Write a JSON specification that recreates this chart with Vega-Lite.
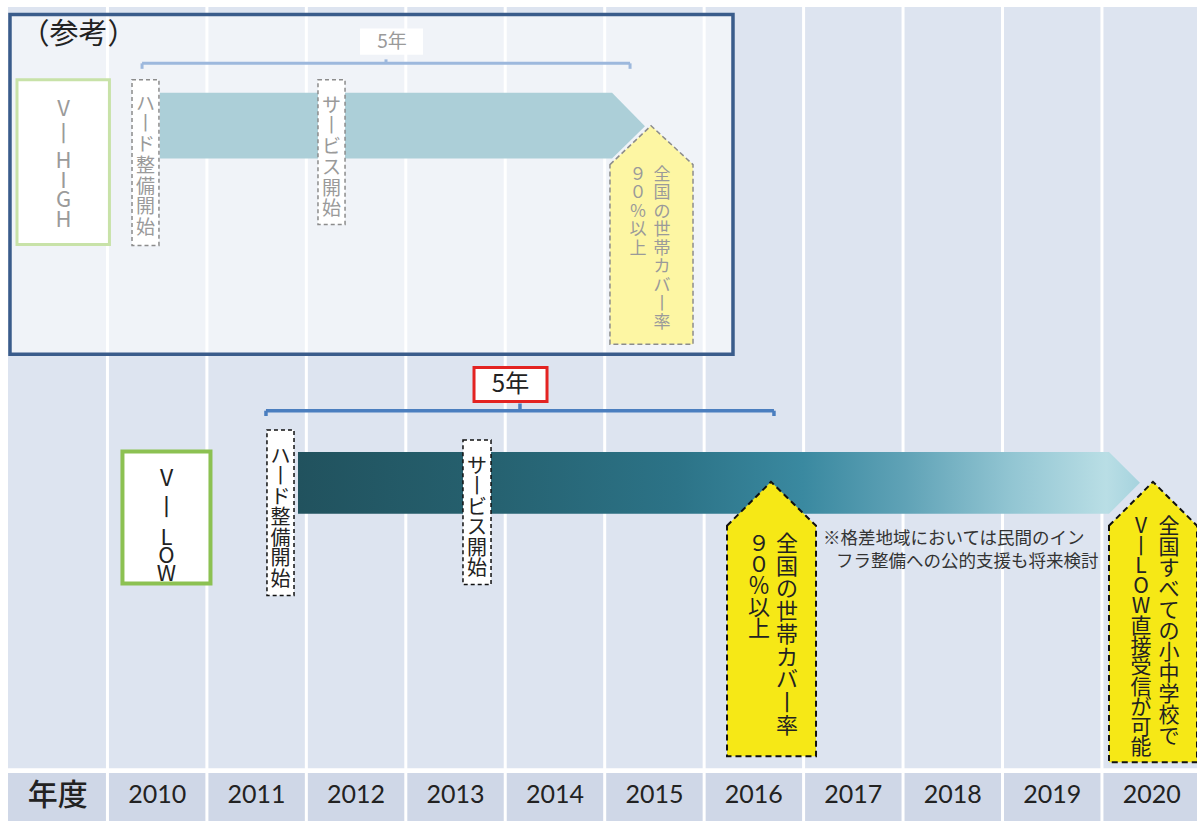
{
  "$schema": "https://vega.github.io/schema/vega-lite/v6.json",
  "width": 1197,
  "height": 823,
  "autosize": {"type": "fit", "contains": "padding"},
  "padding": 0,
  "background": "white",
  "config": {"view": {"stroke": null}, "font": "Noto Sans CJK JP"},
  "encoding": {
    "x": {"field": "x", "type": "quantitative", "scale": {"domain": [2008.4196, 2020.4558], "nice": false, "zero": false}, "axis": null},
    "y": {"field": "y", "type": "quantitative", "scale": {"domain": [0, 82.3], "nice": false, "zero": false, "reverse": true}, "axis": null}
  },
  "layer": [
    {
      "data": {"values": [
        {"x": 2008.5, "x2": 2020.5, "y": 0.7, "y2": 77.0, "part": "grid"},
        {"x": 2008.5, "x2": 2020.5, "y": 77.5, "y2": 82.3, "part": "year"}
      ]},
      "mark": {"type": "rect", "clip": true},
      "encoding": {
        "x2": {"field": "x2"},
        "y2": {"field": "y2"},
        "color": {"field": "part", "type": "nominal", "scale": {"domain": ["grid", "year"], "range": ["#dde4f0", "#cfd7e7"]}, "legend": null}
      }
    },
    {
      "data": {"values": [
        {"x": 2009.5, "y": 0.7, "y2": 82.3}, {"x": 2010.5, "y": 0.7, "y2": 82.3}, {"x": 2011.5, "y": 0.7, "y2": 82.3},
        {"x": 2012.5, "y": 0.7, "y2": 82.3}, {"x": 2013.5, "y": 0.7, "y2": 82.3}, {"x": 2014.5, "y": 0.7, "y2": 82.3},
        {"x": 2015.5, "y": 0.7, "y2": 82.3}, {"x": 2016.5, "y": 0.7, "y2": 82.3}, {"x": 2017.5, "y": 0.7, "y2": 82.3},
        {"x": 2018.5, "y": 0.7, "y2": 82.3}, {"x": 2019.5, "y": 0.7, "y2": 82.3}
      ]},
      "mark": {"type": "rule", "color": "white", "strokeWidth": 3},
      "encoding": {"y2": {"field": "y2"}}
    },
    {
      "data": {"values": [{"x": 2008.52, "x2": 2015.79, "y": 1.45, "y2": 35.5}]},
      "mark": {"type": "rect", "fill": "white", "fillOpacity": 0.55, "stroke": "#3a5c8b", "strokeWidth": 3.5},
      "encoding": {"x2": {"field": "x2"}, "y2": {"field": "y2"}}
    },
    {
      "data": {"values": [{"x": 2009.21, "y": 3.5, "t": "（参考）"}]},
      "mark": {"type": "text", "fontSize": 29, "color": "#222222", "align": "center", "baseline": "middle"},
      "encoding": {"text": {"field": "t", "type": "nominal"}}
    },
    {
      "data": {"values": [
        {"x": 2009.848, "x2": 2014.755, "y": 6.35, "y2": 6.35},
        {"x": 2009.848, "x2": 2009.848, "y": 6.35, "y2": 6.9},
        {"x": 2014.755, "x2": 2014.755, "y": 6.35, "y2": 6.9},
        {"x": 2012.301, "x2": 2012.301, "y": 5.95, "y2": 6.35}
      ]},
      "mark": {"type": "rule", "color": "#9db8dd", "strokeWidth": 3},
      "encoding": {"x2": {"field": "x2"}, "y2": {"field": "y2"}}
    },
    {
      "data": {"values": [{"x": 2012.04, "x2": 2012.673, "y": 2.85, "y2": 5.5}]},
      "mark": {"type": "rect", "fill": "white"},
      "encoding": {"x2": {"field": "x2"}, "y2": {"field": "y2"}}
    },
    {
      "data": {"values": [{"x": 2012.361, "y": 4.2, "t": "5年"}]},
      "mark": {"type": "text", "fontSize": 19, "color": "#9a9a9a", "align": "center", "baseline": "middle"},
      "encoding": {"text": {"field": "t", "type": "nominal"}}
    },
    {
      "data": {"values": [{"x": 2008.5905, "x2": 2009.52, "y": 8.0, "y2": 24.5}]},
      "mark": {"type": "rect", "fill": "white", "stroke": "#c8e2a8", "strokeWidth": 3},
      "encoding": {"x2": {"field": "x2"}, "y2": {"field": "y2"}}
    },
    {
      "data": {"values": [{"x": 2009.058, "y": 9.9, "t": "V\n丨"}]},
      "mark": {"type": "text", "fontSize": 22, "color": "#9a9a9a", "align": "center", "baseline": "top", "lineBreak": "\n", "lineHeight": 25},
      "encoding": {"text": {"field": "t", "type": "nominal"}}
    },
    {
      "data": {"values": [{"x": 2009.058, "y": 15.15, "t": "H\nI\nG\nH"}]},
      "mark": {"type": "text", "fontSize": 22, "color": "#9a9a9a", "align": "center", "baseline": "top", "lineBreak": "\n", "lineHeight": 19.5},
      "encoding": {"text": {"field": "t", "type": "nominal"}}
    },
    {
      "data": {"values": [
        {"x": 2010.028, "y": 9.3, "y2": 15.9},
        {"x": 2014.574, "y": 9.3, "y2": 15.9},
        {"x": 2014.905, "y": 12.65, "y2": 12.65}
      ]},
      "mark": {"type": "area", "orient": "vertical", "color": "#accfd8"},
      "encoding": {"y": {"field": "y", "type": "quantitative", "stack": null}, "y2": {"field": "y2"}}
    },
    {
      "data": {"values": [
        {"x": 2009.747, "x2": 2010.018, "y": 8.0, "y2": 24.6},
        {"x": 2011.617, "x2": 2011.889, "y": 8.0, "y2": 22.5}
      ]},
      "mark": {"type": "rect", "fill": "white", "stroke": "#8c8c8c", "strokeWidth": 1.5, "strokeDash": [4, 3]},
      "encoding": {"x2": {"field": "x2"}, "y2": {"field": "y2"}}
    },
    {
      "data": {"values": [
        {"x": 2009.883, "y": 9.5, "t": "ハ\n丨\nド\n整\n備\n開\n始"},
        {"x": 2011.753, "y": 9.7, "t": "サ\n丨\nビ\nス\n開\n始"}
      ]},
      "mark": {"type": "text", "fontSize": 19, "color": "#9a9a9a", "align": "center", "baseline": "top", "lineBreak": "\n", "lineHeight": 20.7},
      "encoding": {"text": {"field": "t", "type": "nominal"}}
    },
    {
      "data": {"values": [
        {"x": 2014.553, "y": 16.5, "y2": 34.5},
        {"x": 2014.966, "y": 12.6, "y2": 34.5},
        {"x": 2015.388, "y": 16.5, "y2": 34.5}
      ]},
      "mark": {"type": "area", "orient": "vertical", "fill": "#fdf6a3", "stroke": "#8c8c8c", "strokeWidth": 1.5, "strokeDash": [5, 3]},
      "encoding": {"y": {"field": "y", "type": "quantitative", "stack": null}, "y2": {"field": "y2"}}
    },
    {
      "data": {"values": [
        {"x": 2015.076, "y": 16.7, "t": "全\n国\nの\n世\n帯\nカ\nバ\n丨\n率"},
        {"x": 2014.835, "y": 16.7, "t": "９\n０\n％\n以\n上"}
      ]},
      "mark": {"type": "text", "fontSize": 17, "color": "#9a9a9a", "align": "center", "baseline": "top", "lineBreak": "\n", "lineHeight": 18.5},
      "encoding": {"text": {"field": "t", "type": "nominal"}}
    },
    {
      "data": {"values": [
        {"x": 2011.094, "x2": 2016.202, "y": 41.17, "y2": 41.17},
        {"x": 2011.094, "x2": 2011.094, "y": 41.17, "y2": 41.7},
        {"x": 2016.202, "x2": 2016.202, "y": 41.17, "y2": 41.7},
        {"x": 2013.648, "x2": 2013.648, "y": 40.45, "y2": 41.17}
      ]},
      "mark": {"type": "rule", "color": "#4a7ebf", "strokeWidth": 3.5},
      "encoding": {"x2": {"field": "x2"}, "y2": {"field": "y2"}}
    },
    {
      "data": {"values": [{"x": 2013.186, "x2": 2013.92, "y": 36.85, "y2": 40.25}]},
      "mark": {"type": "rect", "fill": "white", "stroke": "#e32322", "strokeWidth": 3},
      "encoding": {"x2": {"field": "x2"}, "y2": {"field": "y2"}}
    },
    {
      "data": {"values": [{"x": 2013.553, "y": 38.6, "t": "5年"}]},
      "mark": {"type": "text", "fontSize": 24, "color": "#222222", "align": "center", "baseline": "middle"},
      "encoding": {"text": {"field": "t", "type": "nominal"}}
    },
    {
      "data": {"values": [{"x": 2009.651, "x2": 2010.536, "y": 45.25, "y2": 58.5}]},
      "mark": {"type": "rect", "fill": "white", "stroke": "#8cc152", "strokeWidth": 4},
      "encoding": {"x2": {"field": "x2"}, "y2": {"field": "y2"}}
    },
    {
      "data": {"values": [{"x": 2010.094, "y": 46.9, "t": "V\n丨"}]},
      "mark": {"type": "text", "fontSize": 23, "color": "#222222", "align": "center", "baseline": "top", "lineBreak": "\n", "lineHeight": 29},
      "encoding": {"text": {"field": "t", "type": "nominal"}}
    },
    {
      "data": {"values": [{"x": 2010.094, "y": 52.9, "t": "L\nO\nW"}]},
      "mark": {"type": "text", "fontSize": 22, "color": "#222222", "align": "center", "baseline": "top", "lineBreak": "\n", "lineHeight": 18},
      "encoding": {"text": {"field": "t", "type": "nominal"}}
    },
    {
      "data": {"values": [
        {"x": 2011.416, "y": 45.3, "y2": 51.5},
        {"x": 2019.571, "y": 45.3, "y2": 51.5},
        {"x": 2019.882, "y": 48.4, "y2": 48.4}
      ]},
      "mark": {"type": "area", "orient": "vertical", "fill": {
        "gradient": "linear", "x1": 0, "y1": 0, "x2": 1, "y2": 0,
        "stops": [
          {"offset": 0, "color": "#21525e"},
          {"offset": 0.2, "color": "#255f6d"},
          {"offset": 0.45, "color": "#2c7387"},
          {"offset": 0.6, "color": "#3a89a0"},
          {"offset": 0.72, "color": "#5fa2b6"},
          {"offset": 0.85, "color": "#93c6d3"},
          {"offset": 0.96, "color": "#b9dee5"},
          {"offset": 1, "color": "#a6d3de"}
        ]}},
      "encoding": {"y": {"field": "y", "type": "quantitative", "stack": null}, "y2": {"field": "y2"}}
    },
    {
      "data": {"values": [
        {"x": 2011.104, "x2": 2011.376, "y": 43.1, "y2": 59.7},
        {"x": 2013.075, "x2": 2013.357, "y": 44.1, "y2": 58.6}
      ]},
      "mark": {"type": "rect", "fill": "white", "stroke": "#111111", "strokeWidth": 1.5, "strokeDash": [4, 3]},
      "encoding": {"x2": {"field": "x2"}, "y2": {"field": "y2"}}
    },
    {
      "data": {"values": [
        {"x": 2011.24, "y": 44.8, "t": "ハ\n丨\nド\n整\n備\n開\n始"},
        {"x": 2013.216, "y": 45.8, "t": "サ\n丨\nビ\nス\n開\n始"}
      ]},
      "mark": {"type": "text", "fontSize": 20, "color": "#222222", "align": "center", "baseline": "top", "lineBreak": "\n", "lineHeight": 20.5},
      "encoding": {"text": {"field": "t", "type": "nominal"}}
    },
    {
      "data": {"values": [
        {"id": "a", "x": 2015.73, "y": 52.7, "y2": 75.8},
        {"id": "a", "x": 2016.172, "y": 48.3, "y2": 75.8},
        {"id": "a", "x": 2016.625, "y": 52.7, "y2": 75.8},
        {"id": "b", "x": 2019.571, "y": 52.7, "y2": 76.4},
        {"id": "b", "x": 2020.013, "y": 48.3, "y2": 76.4},
        {"id": "b", "x": 2020.456, "y": 52.7, "y2": 76.4}
      ]},
      "mark": {"type": "area", "orient": "vertical", "fill": "#f6e816", "stroke": "#111111", "strokeWidth": 2, "strokeDash": [6, 4], "clip": true},
      "encoding": {"y": {"field": "y", "type": "quantitative", "stack": null}, "y2": {"field": "y2"}, "detail": {"field": "id", "type": "nominal"}}
    },
    {
      "data": {"values": [
        {"x": 2016.333, "y": 53.5, "t": "全\n国\nの\n世\n帯\nカ\nバ\n丨\n率"}
      ]},
      "mark": {"type": "text", "fontSize": 22, "color": "#222222", "align": "center", "baseline": "top", "lineBreak": "\n", "lineHeight": 22.8},
      "encoding": {"text": {"field": "t", "type": "nominal"}}
    },
    {
      "data": {"values": [
        {"x": 2016.052, "y": 53.5, "t": "９\n０\n％\n以\n上"}
      ]},
      "mark": {"type": "text", "fontSize": 22, "color": "#222222", "align": "center", "baseline": "top", "lineBreak": "\n", "lineHeight": 21.4},
      "encoding": {"text": {"field": "t", "type": "nominal"}}
    },
    {
      "data": {"values": [
        {"x": 2020.174, "y": 51.7, "t": "全\n国\nす\nべ\nて\nの\n小\n中\n学\n校\nで"}
      ]},
      "mark": {"type": "text", "fontSize": 21, "color": "#222222", "align": "center", "baseline": "top", "lineBreak": "\n", "lineHeight": 21},
      "encoding": {"text": {"field": "t", "type": "nominal"}}
    },
    {
      "data": {"values": [
        {"x": 2019.893, "y": 51.7, "t": "V\n丨\nL\nO\nW\n直\n接\n受\n信\nが\n可\n能"}
      ]},
      "mark": {"type": "text", "fontSize": 21, "color": "#222222", "align": "center", "baseline": "top", "lineBreak": "\n", "lineHeight": 20.1},
      "encoding": {"text": {"field": "t", "type": "nominal"}}
    },
    {
      "data": {"values": [
        {"x": 2016.695, "y": 54.0, "t": "※格差地域においては民間のイン"},
        {"x": 2016.826, "y": 56.3, "t": "フラ整備への公的支援も将来検討"}
      ]},
      "mark": {"type": "text", "fontSize": 17.5, "color": "#333333", "align": "left", "baseline": "middle"},
      "encoding": {"text": {"field": "t", "type": "nominal"}}
    },
    {
      "data": {"values": [{"x": 2009, "y": 79.8, "t": "年度"}]},
      "mark": {"type": "text", "fontSize": 30, "fontWeight": 500, "color": "#222222", "align": "center", "baseline": "middle"},
      "encoding": {"text": {"field": "t", "type": "nominal"}}
    },
    {
      "data": {"values": [
        {"x": 2010, "y": 79.7, "t": "2010"}, {"x": 2011, "y": 79.7, "t": "2011"}, {"x": 2012, "y": 79.7, "t": "2012"},
        {"x": 2013, "y": 79.7, "t": "2013"}, {"x": 2014, "y": 79.7, "t": "2014"}, {"x": 2015, "y": 79.7, "t": "2015"},
        {"x": 2016, "y": 79.7, "t": "2016"}, {"x": 2017, "y": 79.7, "t": "2017"}, {"x": 2018, "y": 79.7, "t": "2018"},
        {"x": 2019, "y": 79.7, "t": "2019"}, {"x": 2020, "y": 79.7, "t": "2020"}
      ]},
      "mark": {"type": "text", "font": "Lato", "fontSize": 25, "color": "#222222", "align": "center", "baseline": "middle"},
      "encoding": {"text": {"field": "t", "type": "nominal"}}
    }
  ]
}
